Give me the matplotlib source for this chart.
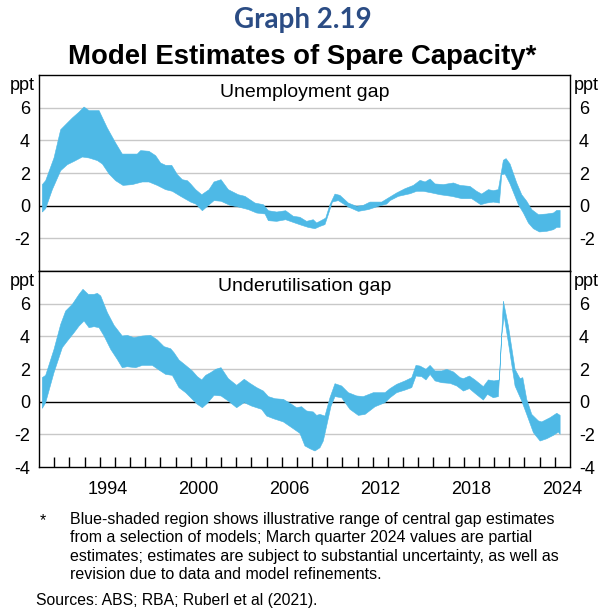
import numpy as np
import matplotlib
matplotlib.use("Agg")
import matplotlib.pyplot as plt

plt.rcParams['font.family'] = ['Liberation Sans', 'DejaVu Sans']

BLUE = '#4EB9E6'

# Unemployment gap: upper / lower edge of the shaded range (ppt)
unemp_up_x = [1990.22, 1990.44, 1990.99, 1991.43, 1991.76, 1992.20, 1992.64, 1992.97, 1993.30, 1993.96,
              1994.50, 1995.05, 1995.49, 1996.48, 1996.70, 1997.25, 1997.69, 1998.02, 1998.35, 1998.75,
              1999.12, 1999.45, 1999.78, 2000.00, 2000.33, 2000.73, 2001.21, 2001.54, 2002.00, 2002.48,
              2003.14, 2003.58, 2004.24, 2004.79, 2005.12, 2005.67, 2006.26, 2006.76, 2007.20, 2007.64,
              2008.08, 2008.30, 2008.63, 2008.90, 2009.18, 2009.51, 2009.84, 2010.39, 2010.94, 2011.38,
              2011.82, 2012.59, 2013.03, 2013.58, 2014.13, 2014.68, 2015.12, 2015.45, 2015.78, 2016.11,
              2016.66, 2017.32, 2017.76, 2018.41, 2018.85, 2019.18, 2019.62, 2019.95, 2020.28, 2020.61,
              2020.79, 2021.05, 2021.49, 2021.82, 2022.15, 2022.48, 2022.92, 2023.47, 2023.91, 2024.13,
              2024.35]
unemp_up = [1.29, 1.53, 2.92, 4.65, 4.96, 5.37, 5.73, 6.04, 5.82, 5.82,
            4.76, 3.84, 3.16, 3.16, 3.37, 3.33, 3.06, 2.61, 2.47, 2.47,
            1.90, 1.59, 1.53, 1.33, 0.98, 0.67, 0.98, 1.45, 1.59, 0.98,
            0.67, 0.57, 0.16, 0.06, -0.31, -0.39, -0.31, -0.65, -0.71, -0.96,
            -0.86, -1.06, -0.90, -0.76, 0.06, 0.71, 0.63, 0.16, -0.04, 0.02,
            0.22, 0.22, 0.47, 0.78, 1.04, 1.24, 1.55, 1.45, 1.63, 1.33,
            1.29, 1.39, 1.24, 1.18, 0.88, 0.71, 0.98, 0.92, 0.98, 2.78,
            2.88, 2.55, 1.39, 0.67, 0.27, -0.24, -0.55, -0.51, -0.45, -0.29,
            -0.29]

unemp_lo_x = [1990.22, 1990.44, 1990.88, 1991.43, 1991.87, 1992.31, 1992.86, 1993.30, 1993.85, 1994.18,
              1994.62, 1995.05, 1995.54, 1996.15, 1996.81, 1997.25, 1997.80, 1998.35, 1998.79, 1999.34,
              2000.00, 2000.33, 2000.77, 2001.10, 2001.54, 2002.00, 2002.59, 2003.14, 2003.80, 2004.35,
              2004.90, 2005.12, 2005.67, 2006.26, 2006.87, 2007.31, 2007.75, 2008.19, 2008.52, 2008.85,
              2009.07, 2009.34, 2009.73, 2010.39, 2011.05, 2011.71, 2012.37, 2012.92, 2013.14, 2013.69,
              2014.46, 2014.90, 2015.34, 2015.89, 2016.44, 2017.21, 2017.87, 2018.52, 2019.12, 2019.51,
              2019.95, 2020.35, 2020.50, 2020.72, 2021.05, 2021.60, 2021.93, 2022.26, 2022.59, 2022.99,
              2023.47, 2023.91, 2024.13, 2024.35]
unemp_lo = [-0.39, -0.18, 0.98, 2.14, 2.51, 2.71, 2.98, 2.92, 2.76, 2.55,
            1.94, 1.53, 1.24, 1.29, 1.45, 1.45, 1.24, 0.98, 0.88, 0.57,
            0.22, 0.10, -0.31, -0.04, 0.31, 0.27, 0.02, -0.08, -0.24, -0.45,
            -0.51, -0.92, -0.96, -0.86, -1.06, -1.20, -1.33, -1.41, -1.27, -1.16,
            -0.55, 0.22, 0.31, -0.08, -0.35, -0.24, -0.04, 0.10, 0.31, 0.57,
            0.73, 0.88, 0.88, 0.78, 0.67, 0.57, 0.43, 0.43, 0.06, 0.16,
            0.22, 0.16, 1.90, 1.94, 1.33, 0.06, -0.45, -1.06, -1.41, -1.61,
            -1.57, -1.47, -1.33, -1.33]

# Underutilisation gap: upper / lower edge of the shaded range (ppt)
under_up_x = [1990.22, 1990.44, 1990.99, 1991.43, 1991.76, 1992.20, 1992.64, 1992.90, 1993.25, 1993.63,
              1993.85, 1994.07, 1994.51, 1994.95, 1995.49, 1995.82, 1996.26, 1996.81, 1997.36, 1997.80,
              1998.24, 1998.68, 1998.90, 1999.23, 1999.67, 2000.11, 2000.44, 2000.73, 2000.99, 2001.32,
              2001.65, 2002.00, 2002.48, 2003.03, 2003.53, 2003.91, 2004.35, 2004.79, 2005.12, 2005.56,
              2006.11, 2006.55, 2006.98, 2007.31, 2007.64, 2008.08, 2008.30, 2008.52, 2008.85, 2009.18,
              2009.51, 2009.95, 2010.39, 2010.94, 2011.38, 2012.04, 2012.81, 2013.14, 2013.58, 2014.13,
              2014.57, 2014.85, 2015.12, 2015.51, 2015.78, 2016.11, 2016.55, 2016.88, 2017.32, 2017.76,
              2017.98, 2018.37, 2018.74, 2019.29, 2019.62, 2019.99, 2020.35, 2020.61, 2020.94, 2021.38,
              2021.71, 2021.89, 2022.15, 2022.48, 2022.92, 2023.14, 2023.69, 2024.13, 2024.35]
under_up = [1.47, 1.61, 3.20, 4.73, 5.55, 5.96, 6.57, 6.88, 6.57, 6.57,
            6.63, 6.47, 5.45, 4.67, 4.02, 4.06, 3.92, 4.02, 4.06, 3.78,
            3.37, 3.24, 3.00, 2.55, 2.22, 1.88, 1.53, 1.33, 1.61, 1.78,
            1.98, 2.08, 1.41, 1.00, 1.37, 1.12, 0.86, 0.65, 0.31, 0.18,
            0.14, -0.10, -0.37, -0.31, -0.57, -0.63, -0.84, -0.78, -0.88, 0.24,
            1.10, 0.96, 0.55, 0.35, 0.31, 0.55, 0.55, 0.80, 1.06, 1.27,
            1.47, 2.22, 2.18, 1.98, 2.22, 1.88, 1.88, 1.98, 1.82, 1.47,
            1.41, 1.57, 1.33, 0.92, 1.33, 1.27, 1.33, 6.16, 4.63, 1.98,
            1.41, 1.47, 0.14, -0.78, -1.18, -1.24, -0.98, -0.71, -0.84]

under_lo_x = [1990.22, 1990.44, 1990.99, 1991.54, 1991.87, 1992.31, 1992.64, 1992.97, 1993.30, 1993.63,
              1993.96, 1994.29, 1994.73, 1995.16, 1995.49, 1995.82, 1996.37, 1996.81, 1997.47, 1997.91,
              1998.35, 1998.79, 1999.23, 1999.67, 2000.11, 2000.44, 2000.77, 2001.10, 2001.54, 2002.00,
              2002.48, 2003.03, 2003.53, 2004.02, 2004.68, 2005.01, 2005.45, 2006.11, 2006.66, 2007.20,
              2007.53, 2007.86, 2008.19, 2008.52, 2008.74, 2008.96, 2009.25, 2009.51, 2009.95, 2010.50,
              2011.05, 2011.49, 2012.15, 2012.81, 2013.14, 2013.58, 2014.13, 2014.57, 2014.85, 2015.23,
              2015.51, 2015.78, 2016.11, 2016.55, 2017.10, 2017.54, 2017.98, 2018.37, 2018.74, 2019.29,
              2019.56, 2019.95, 2020.28, 2020.50, 2020.66, 2020.94, 2021.38, 2021.82, 2022.15, 2022.59,
              2023.03, 2023.47, 2023.91, 2024.24, 2024.35]
under_lo = [-0.41, -0.06, 1.78, 3.31, 3.71, 4.22, 4.63, 4.94, 4.53, 4.59,
            4.53, 4.02, 3.20, 2.59, 2.08, 2.14, 2.08, 2.22, 2.22, 1.94,
            1.67, 1.61, 0.86, 0.55, 0.14, -0.16, -0.37, -0.10, 0.39, 0.35,
            0.04, -0.37, -0.06, -0.27, -0.47, -0.88, -1.04, -1.24, -1.59, -1.94,
            -2.71, -2.88, -3.02, -2.82, -2.41, -1.49, -0.27, 0.31, 0.24, -0.47,
            -0.84, -0.78, -0.31, -0.06, 0.24, 0.55, 0.71, 0.86, 1.57, 1.53,
            1.33, 1.67, 1.27, 1.16, 1.12, 0.96, 0.65, 0.80, 0.51, 0.10,
            0.45, 0.24, 0.31, 4.02, 5.24, 3.61, 0.96, 0.04, -0.78, -1.90,
            -2.41, -2.27, -2.06, -1.86, -2.00]

panel_titles = ['Unemployment gap', 'Underutilisation gap']
year_labels = [1994, 2000, 2006, 2012, 2018, 2024]

fig = plt.figure(figsize=(6.05, 6.10), dpi=100)
W, H = 605, 610
left, right = 39 / W, 570 / W
ax_top = fig.add_axes([left, 1 - 271 / H, right - left, 196 / H])
ax_bot = fig.add_axes([left, 1 - 467 / H, right - left, 196 / H])

panels = [
    (ax_top, unemp_up_x, unemp_up, unemp_lo_x, unemp_lo, [-2, 0, 2, 4, 6]),
    (ax_bot, under_up_x, under_up, under_lo_x, under_lo, [-4, -2, 0, 2, 4, 6]),
]

for i, (ax, ux, uy, lx, ly, yt) in enumerate(panels):
    ax.set_xlim(1990, 2025)
    ax.set_ylim(-4, 8)
    for g in [-2, 2, 4, 6]:
        ax.axhline(g, color='#c8c8c8', lw=1.0, zorder=1)
    ax.axhline(0, color='black', lw=1.0, zorder=1)
    xs = np.concatenate([ux, lx[::-1]])
    ys = np.concatenate([uy, ly[::-1]])
    ax.fill(xs, ys, color=BLUE, lw=0.4, ec=BLUE, zorder=2)

    ax.set_yticks(yt)
    ax.set_yticklabels([str(v) for v in yt])
    ax.tick_params(axis='y', left=False, right=False, labelleft=True,
                   labelright=True, labelsize=13, pad=3)
    for s in ax.spines.values():
        s.set_color('black')
        s.set_linewidth(1.0)
    ax.text(-0.007, 0.948, 'ppt', transform=ax.transAxes, ha='right', va='center', fontsize=13)
    ax.text(1.007, 0.948, 'ppt', transform=ax.transAxes, ha='left', va='center', fontsize=13)
    ax.text(0.5, 0.91 if i == 0 else 0.92, panel_titles[i], transform=ax.transAxes,
            ha='center', va='center', fontsize=14)

ax_top.set_xticks([])
ax_bot.set_xticks([y + 0.5 for y in year_labels])
ax_bot.set_xticklabels([str(y) for y in year_labels])
ax_bot.set_xticks(np.arange(1991, 2025), minor=True)
ax_bot.tick_params(axis='x', which='major', length=0, labelsize=13, pad=10)
ax_bot.tick_params(axis='x', which='minor', direction='in', length=7, width=1, color='black')

fig.text(0.5, 1 - 20 / H, 'Graph 2.19', ha='center', va='center', fontsize=20,
         fontweight='bold', color='#2B4C84', family=['Lato', 'DejaVu Sans'])
fig.text(0.5, 1 - 57 / H, 'Model Estimates of Spare Capacity*', ha='center', va='center',
         fontsize=19.8, fontweight='bold')

note = ('Blue-shaded region shows illustrative range of central gap estimates\n'
        'from a selection of models; March quarter 2024 values are partial\n'
        'estimates; estimates are subject to substantial uncertainty, as well as\n'
        'revision due to data and model refinements.')
fig.text(40 / W, 1 - 521 / H, '*', ha='left', va='center', fontsize=11.5)
fig.text(70 / W, 1 - 512 / H, note, ha='left', va='top', fontsize=11.5, linespacing=1.29)
fig.text(36 / W, 1 - 600 / H, 'Sources: ABS; RBA; Ruberl et al (2021).', ha='left',
         va='center', fontsize=11.3)

fig.savefig('out.png', dpi=100)
